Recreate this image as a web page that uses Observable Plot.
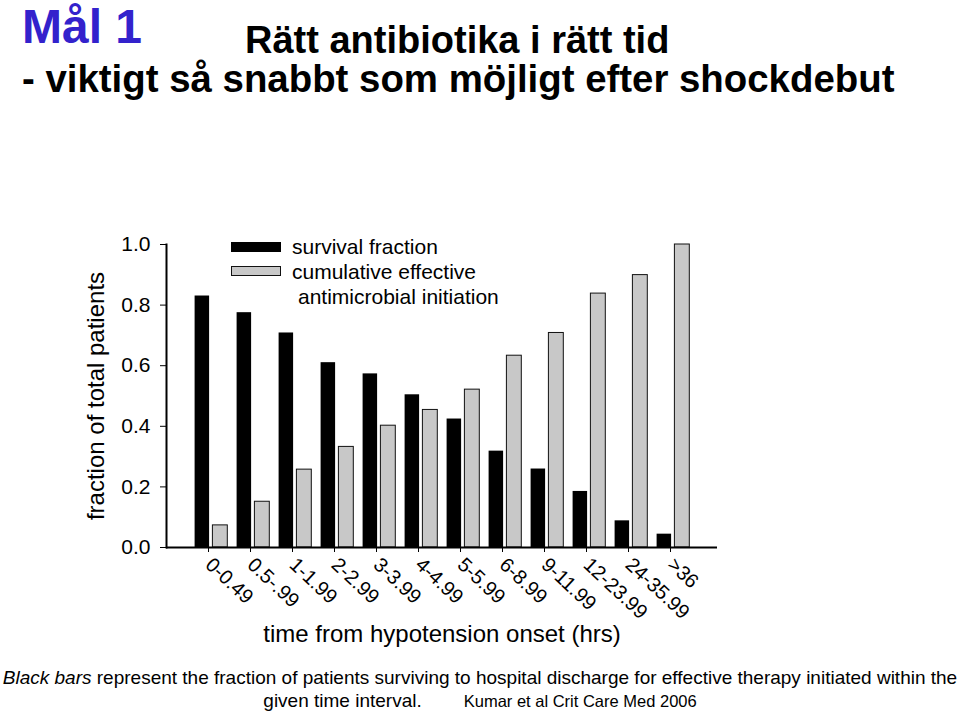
<!DOCTYPE html>
<html>
<head>
<meta charset="utf-8">
<script src="https://cdn.jsdelivr.net/npm/d3@7"></script>
<script src="https://cdn.jsdelivr.net/npm/@observablehq/plot@0.6"></script>
<style>
  html, body { margin: 0; padding: 0; background: #fff; }
  body { width: 960px; height: 713px; position: relative; overflow: hidden;
         font-family: "Liberation Sans", Arial, Helvetica, sans-serif; color: #000; }
  .abs { position: absolute; white-space: nowrap; line-height: 1; }
  #goal { left: 22px; top: 3px; font-size: 48px; font-weight: bold; color: #3322cc; }
  #t1 { left: 245px; top: 21px; font-size: 38px; font-weight: bold; }
  #t2 { left: 22px; top: 60px; font-size: 38.4px; font-weight: bold; }
  #chart { position: absolute; left: 0; top: 150px; }
  #legend { position: absolute; left: 231px; top: 236px; font-size: 21px; line-height: 1; }
  .sw { position: absolute; left: 0; width: 50px; height: 10px; box-sizing: border-box; }
  .lt { position: absolute; left: 61px; white-space: nowrap; }
  #cap1 { left: 0; width: 960px; text-align: center; top: 668px; font-size: 19px; }
  #cap2 { left: 0; width: 960px; text-align: center; top: 691px; font-size: 19px; }
</style>
</head>
<body>
<div class="abs" id="goal">Mål 1</div>
<div class="abs" id="t1">Rätt antibiotika i rätt tid</div>
<div class="abs" id="t2">- viktigt så snabbt som möjligt efter shockdebut</div>
<div id="chart"></div>
<div id="legend">
  <div class="sw" style="top:6px; background:#000;"></div>
  <div class="lt" style="top:0px;">survival fraction</div>
  <div class="sw" style="top:30px; background:#c8c8c8; border:1px solid #111;"></div>
  <div class="lt" style="top:25px;">cumulative effective</div>
  <div class="lt" style="top:50px; left:67px;">antimicrobial initiation</div>
</div>
<div class="abs" id="cap1"><i>Black bars</i> represent the fraction of patients surviving to hospital discharge for effective therapy initiated within the</div>
<div class="abs" id="cap2">given time interval.<span style="display:inline-block;width:42px;"></span><span style="font-size:16.5px;">Kumar et al Crit Care Med 2006</span></div>
<script>
const groups = ["0-0.49", "0.5-.99", "1-1.99", "2-2.99", "3-3.99", "4-4.99", "5-5.99", "6-8.99", "9-11.99", "12-23.99", "24-35.99", ">36"];
const survival = [0.83, 0.775, 0.708, 0.61, 0.573, 0.504, 0.424, 0.318, 0.259, 0.185, 0.088, 0.044];
const cumulative = [0.073, 0.151, 0.257, 0.332, 0.402, 0.454, 0.521, 0.633, 0.708, 0.838, 0.899, 1.0];
const yTicks = [0, 0.2, 0.4, 0.6, 0.8, 1.0];
const yTitle = "fraction of total patients";
const xTitle = "time from hypotension onset (hrs)";

const data = groups.map((g, i) => ({group: g, survival: survival[i], cumulative: cumulative[i]}));

const chart = Plot.plot({
  width: 960,
  height: 510,
  marginLeft: 166,
  marginRight: 243,
  marginTop: 94,
  marginBottom: 113,
  style: {fontFamily: '"Liberation Sans", Arial, Helvetica, sans-serif', background: "transparent", color: "#000"},
  x: {domain: groups, paddingInner: 0, paddingOuter: 0.5, label: null},
  y: {domain: [0, 1], label: null},
  marks: [
    Plot.barY(data, {x: "group", y: "survival", fill: "#000", insetLeft: 4.6, insetRight: 22.9}),
    Plot.barY(data, {x: "group", y: "cumulative", fill: "#c8c8c8", stroke: "#111", strokeWidth: 1, insetLeft: 22.4, insetRight: 4.7}),
    Plot.axisY({ticks: yTicks, tickFormat: d3.format(".1f"), tickSize: 6, tickPadding: 10, fontSize: 21, label: null}),
    Plot.axisX({tickRotate: 43, tickSize: 5, tickPadding: 9, fontSize: 20, label: null, dx: -3}),
    Plot.ruleY([0], {strokeWidth: 2.2}),
    Plot.frame({anchor: "left", strokeWidth: 2}),
    Plot.text([yTitle], {frameAnchor: "left", textAnchor: "middle", rotate: -90, dx: -70, fontSize: 24}),
    Plot.text([xTitle], {frameAnchor: "bottom", textAnchor: "middle", dy: 94, fontSize: 24})
  ]
});
document.getElementById("chart").appendChild(chart);
</script>
</body>
</html>
